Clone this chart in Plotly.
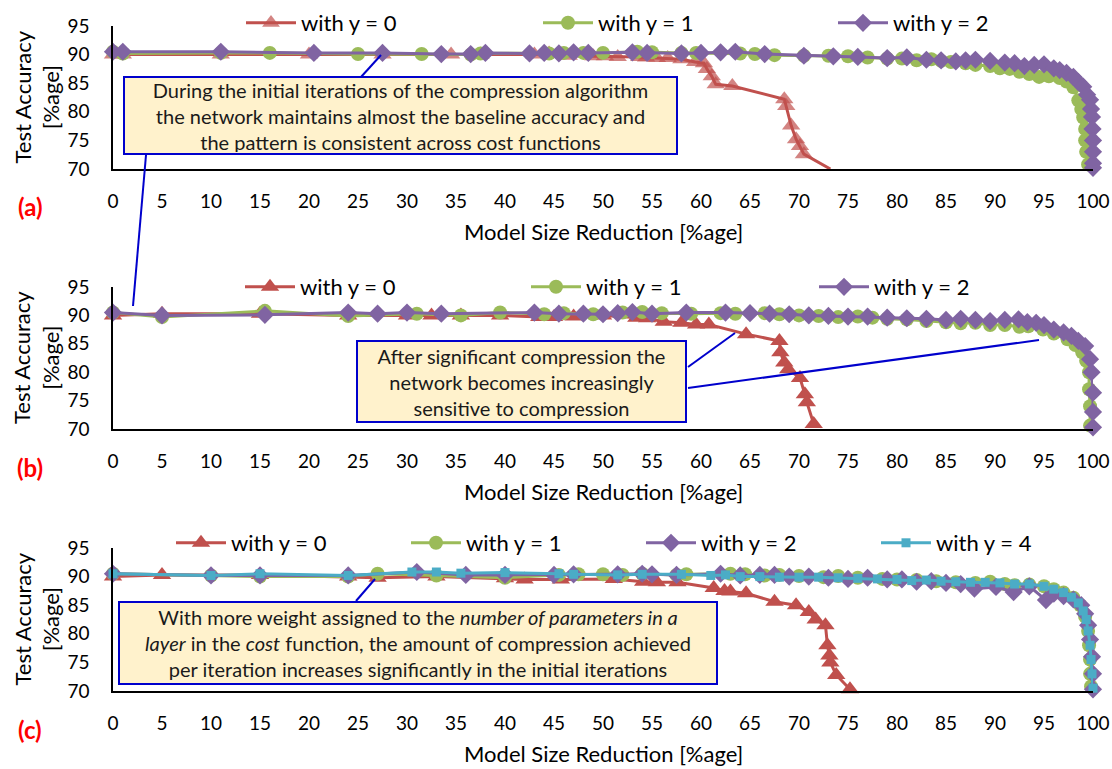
import plotly.graph_objects as go

# ---------------- data ----------------
# (a) cost-function sweep: y = 0, 1, 2
a_y0_x = [0, 1, 11, 20, 27.5, 34.5, 37.5, 43, 44.5, 46.5, 49, 50.2, 51.5, 53.7, 54.4, 55.5, 56.6, 58, 59.4,
          60.3, 60.6, 61.1, 61.5, 63.2, 68.5, 68.7, 69.2, 69.7, 70.1, 70.5, 73.2]
a_y0_acc = [90, 90, 90, 90, 90, 90, 90, 90, 90.2, 89.8, 89.7, 89.7, 89.6, 89.6, 89.5, 89.4, 89.4, 89.2, 88.7,
            88.5, 87.5, 86.2, 84.8, 84.5, 82.2, 81, 77.6, 75.2, 74, 72.6, 70]

a_y1_x = [0, 1, 11, 16, 25, 31.5, 36.5, 37.5, 44.5, 46, 48, 50, 53.5, 55, 58, 59.5, 64, 65.5, 67.5, 70.5,
          73, 75, 77, 79, 80.5, 82, 83.5, 84.5, 85.5, 87, 88, 89.5, 90.5, 91.5, 92.5, 93.5, 94.5, 95.5,
          96.6, 97.3, 98, 98.5, 98.8, 99.0, 99.2, 99.2, 99.3, 99.5]
a_y1_acc = [90.5, 90.2, 90.3, 90.3, 90.1, 90.1, 90.0, 90.2, 90.2, 90.3, 90.3, 90.3, 90.5, 90.4, 90.3, 90.3,
            90.2, 90.1, 89.9, 89.8, 89.8, 89.7, 89.5, 89.3, 89.3, 89.0, 89.2, 88.9, 88.7, 88.5, 88.2, 88.0,
            87.6, 87.5, 87.0, 86.6, 86.1, 86.2, 85.9, 85.3, 84.3, 82.0, 80.5, 79.0, 77.0, 75.0, 73.0, 70.8]

a_y2_x = [0, 1, 11, 20.5, 27.5, 33.5, 36.5, 38, 42.5, 44, 45.5, 47, 48.5, 53, 54.5, 58, 60, 62, 63.5, 66.5,
          70.5, 73.5, 76, 79, 81, 83, 84.5, 86, 87, 88, 89.5, 91, 92, 93, 94, 95, 96, 96.6, 97.3, 98, 98.5,
          99, 99.4, 99.7, 99.8, 99.9, 99.95, 100, 100, 100, 100]
a_y2_acc = [90.5, 90.5, 90.5, 90.3, 90.3, 90.1, 90.1, 90.3, 90.2, 90.3, 90.2, 90.4, 90.3, 90.4, 90.3, 90.2,
            90.3, 90.4, 90.5, 90.1, 89.8, 89.7, 89.6, 89.4, 89.5, 89.1, 89.0, 88.8, 89.0, 89.1, 88.9, 88.6,
            88.5, 88.0, 88.2, 88.3, 87.6, 87.3, 86.8, 86.1, 85.2, 84.4, 83.0, 82.1, 80.5, 79.1, 77.0, 75.0,
            73.0, 71.0, 70.2]

# (b)
b_y0_x = [0, 5, 15, 24, 30, 32.5, 35.5, 39.5, 43.5, 45, 47, 50, 53.4, 54.5, 56.2, 58, 59.5, 60.8, 64.6, 68,
          68.1, 68.5, 68.9, 70.1, 70.6, 70.8, 71.5]
b_y0_acc = [90, 90.3, 90.3, 90.0, 90.0, 90.0, 90.0, 90.0, 89.7, 89.7, 89.8, 90.0, 89.6, 89.5, 88.9, 88.7,
            88.4, 88.4, 86.7, 85.5, 83.5, 81.7, 80.5, 79, 76.1, 74.7, 70.9]

b_y1_x = [0, 5, 15.5, 24, 31, 35.5, 39.5, 44, 46, 49, 52, 54, 56, 59, 62, 63.5, 66.5, 68, 70, 72, 74, 76,
          77.5, 79, 81, 83, 85, 86.5, 88, 89.5, 91, 92.5, 93.4, 94.9, 96, 97.4, 98.2, 98.9, 99.3, 99.6,
          99.6, 99.7, 99.7]
b_y1_acc = [90.5, 89.7, 90.8, 89.9, 90.3, 90.0, 90.5, 90.2, 90.4, 90.2, 90.5, 90.6, 90.4, 90.3, 90.4, 90.3,
            90.4, 90.2, 90.0, 89.9, 89.7, 89.8, 89.6, 89.4, 89.3, 89.0, 88.8, 88.6, 88.7, 88.3, 88.3, 88.0,
            88.1, 87.5, 86.8, 85.8, 84.8, 83.5, 82.0, 80.0, 77.0, 74.0, 70.6]

b_y2_x = [0, 5, 15.5, 24, 27, 30, 33.5, 43, 45.5, 48, 50, 51.5, 53, 55, 58.5, 62.5, 65, 67, 69, 71, 73, 75,
          77, 79, 81, 83, 85, 86.5, 88, 89.5, 91, 92.4, 93.3, 94.2, 95, 96, 97, 97.8, 98.5, 99.2, 99.7,
          99.85, 100, 100, 100]
b_y2_acc = [90.5, 90.0, 90.1, 90.5, 90.3, 90.5, 90.3, 90.5, 90.3, 90.3, 90.2, 90.4, 90.6, 90.3, 90.5, 90.5,
            90.4, 90.3, 90.2, 90.0, 89.9, 89.8, 89.8, 89.6, 89.5, 89.4, 89.2, 89.4, 89.2, 89.0, 89.2, 89.3,
            88.8, 88.7, 88.3, 87.5, 87.0, 86.4, 85.5, 84.6, 82.3, 80.0, 76.4, 73.0, 70.3]

# (c) adds y = 4
c_y0_x = [0, 5, 15, 24, 27, 33, 40, 42, 45.7, 51.1, 54.1, 55.5, 57.6, 61.3, 62.4, 63, 64.6, 67.5, 69.7, 71,
          71.7, 72.7, 72.9, 73.1, 73.2, 73.8, 75.2]
c_y0_acc = [90, 90.3, 90.3, 90.0, 89.8, 90.0, 89.7, 89.5, 89.5, 89.6, 89.1, 89.0, 89.0, 88.0, 87.5, 87.4,
            87.1, 85.6, 85.0, 83.8, 82.5, 81.5, 78.0, 76.2, 75.0, 72.8, 70.3]

c_y1_x = [0, 10, 15, 24, 27, 33, 40, 45.5, 47.5, 50, 52, 54, 57.5, 58.5, 63, 64.5, 66.5, 68, 70, 72.5, 74,
          76, 78.5, 80, 82, 84, 86, 88, 89.5, 91, 92, 93.5, 95, 96, 97, 98, 98.7, 99.2, 99.5, 99.6, 99.7,
          99.7, 99.8]
c_y1_acc = [90.5, 90.2, 90.0, 90.0, 90.5, 90.2, 89.8, 90.3, 90.4, 90.4, 90.3, 90.5, 90.3, 90.4, 90.5, 90.4,
            90.2, 90.3, 90.1, 89.9, 90.1, 89.8, 89.6, 89.5, 89.4, 89.2, 89.0, 88.9, 89.1, 88.7, 88.5, 88.6,
            88.3, 87.8, 87.2, 86.3, 85.0, 83.0, 80.5, 78.0, 75.5, 73.0, 70.8]

c_y2_x = [0, 10, 15, 24, 31, 36, 40, 45, 47, 51.5, 54, 55, 57.5, 62, 64, 66, 67.5, 69, 71, 73, 75, 77, 79,
          80.5, 82, 83.5, 85, 86.5, 87.9, 90.1, 91.9, 93.5, 95.2, 96, 97, 98, 98.8, 99.2, 99.5, 99.7, 99.9,
          100, 100]
c_y2_acc = [90.5, 90.2, 90.2, 90.2, 90.8, 90.3, 90.3, 90.3, 90.4, 90.4, 90.5, 90.4, 90.3, 90.5, 90.2, 90.3,
            90.3, 90.0, 90.0, 89.8, 89.6, 89.8, 89.5, 89.5, 89.1, 89.2, 88.9, 88.7, 87.9, 88.2, 87.3, 88.3,
            85.9, 87.0, 86.6, 86.0, 85.0, 83.5, 81.5, 79.0, 76.0, 73.0, 70.3]

c_y4_x = [0, 10, 15, 24, 30.5, 33, 35.5, 40, 45.5, 47, 51.5, 54, 58, 61, 62.5, 64, 66, 68, 70, 72, 74, 76,
          78, 80, 81.5, 83, 84.5, 86, 87.5, 89, 90.5, 92, 93.5, 95, 96, 97, 97.8, 98.5, 99, 99.3, 99.5,
          99.7, 99.8, 99.9, 100]
c_y4_acc = [90.5, 90.2, 90.5, 90.2, 90.8, 90.8, 90.6, 90.7, 90.5, 90.4, 90.3, 90.4, 90.4, 90.2, 90.3, 90.0,
            90.0, 89.9, 89.9, 89.9, 89.8, 89.7, 89.6, 89.5, 89.3, 89.4, 89.2, 89.1, 89.0, 89.0, 88.9, 88.7,
            88.7, 88.3, 87.8, 87.2, 86.4, 85.4, 84.0, 82.5, 80.5, 78.0, 75.5, 73.0, 70.5]

x_ticks = list(range(0, 101, 5))
y_ticks = [70, 75, 80, 85, 90, 95]

# ---------------- styling ----------------
W, H = 1112, 769
FONT = "Lato"
RED, GREEN, PURPLE, CYAN = "#C0504D", "#9BBB59", "#8064A2", "#4BACC6"
STYLE = {
    0: dict(color=RED, symbol="triangle-up", size=16, name="with y = 0"),
    1: dict(color=GREEN, symbol="circle", size=14, name="with y = 1"),
    2: dict(color=PURPLE, symbol="diamond", size=14, name="with y = 2"),
    4: dict(color=CYAN, symbol="square", size=9, name="with y = 4"),
}


def px_x(p):
    return p / W


def px_y(p):
    return 1 - p / H


# pixel rows of each panel: (top of y-range, bottom of y-range)
panels = [(26, 169), (287, 429), (548, 691)]
x_left, x_right = 113, 1093

series = [
    [(0, a_y0_x, a_y0_acc), (1, a_y1_x, a_y1_acc), (2, a_y2_x, a_y2_acc)],
    [(0, b_y0_x, b_y0_acc), (1, b_y1_x, b_y1_acc), (2, b_y2_x, b_y2_acc)],
    [(0, c_y0_x, c_y0_acc), (1, c_y1_x, c_y1_acc), (2, c_y2_x, c_y2_acc), (4, c_y4_x, c_y4_acc)],
]
# where each legend entry's label text starts (px), and the row it sits on
legend_text_x = [[303, 600, 895], [302, 588, 876], [233, 468, 703, 938]]
legend_row_y = [23, 287, 543]

fig = go.Figure()
layout = dict(
    width=W, height=H,
    margin=dict(l=0, r=0, t=0, b=0, autoexpand=False),
    paper_bgcolor="white", plot_bgcolor="white",
    font=dict(family=FONT, size=18, color="#000000"),
    showlegend=True,
)

LEG_ITEMW = 50
leg_idx = 0
for i, panel in enumerate(series):
    sfx = "" if i == 0 else str(i + 1)
    for j, (key, xs, ys) in enumerate(panel):
        st = STYLE[key]
        sizes = st["size"]
        if i == 0 and key == 0:
            # last point of the first panel sits on the axis floor with no marker
            sizes = [st["size"]] * (len(xs) - 1) + [0]
        leg_idx += 1
        lname = "legend" if leg_idx == 1 else "legend%d" % leg_idx
        fig.add_trace(go.Scatter(
            x=xs, y=ys, mode="lines+markers", name=st["name"],
            line=dict(color=st["color"], width=3),
            marker=dict(symbol=st["symbol"], size=sizes, color=st["color"], line=dict(width=0)),
            cliponaxis=False,
            xaxis="x" + sfx, yaxis="y" + sfx,
            legend=lname,
        ))
        layout[lname] = dict(
            orientation="h", x=px_x(legend_text_x[i][j] - LEG_ITEMW - 12), y=px_y(legend_row_y[i]),
            xanchor="left", yanchor="middle",
            font=dict(family=FONT, size=22, color="#000000"), bgcolor="rgba(0,0,0,0)",
            itemwidth=LEG_ITEMW,
        )

axis_font = dict(family=FONT, size=19, color="#000000")
for i, (top, bot) in enumerate(panels):
    sfx = "" if i == 0 else str(i + 1)
    layout["xaxis" + sfx] = dict(
        domain=[px_x(x_left), px_x(x_right)], range=[0, 100], anchor="y" + sfx,
        tickvals=x_ticks, ticktext=[str(v) for v in x_ticks], tickfont=axis_font,
        showgrid=False, zeroline=False, showline=True, linecolor="#000000", linewidth=1.5,
        ticks="", ticklabelstandoff=14,
    )
    layout["yaxis" + sfx] = dict(
        domain=[px_y(bot), px_y(top)], range=[70, 95], anchor="x" + sfx,
        tickvals=y_ticks, tickfont=axis_font,
        showgrid=False, zeroline=False, showline=True, linecolor="#000000", linewidth=1.5,
        ticks="", ticklabelstandoff=18,
    )

fig.update_layout(**layout)

annotations = []
for i, (top, bot) in enumerate(panels):
    mid = (top + bot) / 2
    annotations.append(dict(
        text="Test Accuracy<br>[%age]", x=px_x(36), y=px_y(mid), xref="paper", yref="paper",
        textangle=-90, showarrow=False, font=dict(family=FONT, size=22, color="#000000"),
        xanchor="center", yanchor="middle",
    ))
    annotations.append(dict(
        text="Model Size Reduction [%age]", x=px_x(603), y=px_y(bot + 62), xref="paper", yref="paper",
        showarrow=False, font=dict(family=FONT, size=22, color="#000000"),
        xanchor="center", yanchor="middle",
    ))
    annotations.append(dict(
        text="<b>(" + "abc"[i] + ")</b>", x=px_x(30), y=px_y(bot + 38), xref="paper", yref="paper",
        showarrow=False, font=dict(family=FONT, size=24, color="#FF0000"),
        xanchor="center", yanchor="middle",
    ))

BOX_FILL, BOX_LINE, TXT = "#FFF2CC", "#0000CC", "#1a1a1a"
boxes = [
    ((123, 76, 678, 155),
     "During the initial iterations of the compression algorithm<br>"
     "the network maintains almost the baseline accuracy and<br>"
     "the pattern is consistent across cost functions"),
    ((356, 340, 687, 423),
     "After significant compression the<br>network becomes increasingly<br>sensitive to compression"),
    ((118, 601, 718, 685),
     "With more weight assigned to the <i>number of parameters in a</i><br>"
     "<i>layer</i> in the <i>cost</i> function, the amount of compression achieved<br>"
     "per iteration increases significantly in the initial iterations"),
]
for (x0, y0, x1, y1), txt in boxes:
    annotations.append(dict(
        text=txt, x=px_x((x0 + x1) / 2), y=px_y((y0 + y1) / 2), xref="paper", yref="paper",
        showarrow=False, align="center", xanchor="center", yanchor="middle",
        font=dict(family=FONT, size=20, color=TXT),
        bgcolor=BOX_FILL, bordercolor=BOX_LINE, borderwidth=2, borderpad=1,
        width=(x1 - x0) - 6, height=(y1 - y0) - 6,
    ))
fig.update_layout(annotations=annotations)

# callout leader lines
leaders = [
    (361, 77, 381, 55),
    (146, 155, 133, 306),
    (688, 367, 735, 333),
    (688, 388, 1039, 340),
    (356, 601, 375, 579),
]
for x0, y0, x1, y1 in leaders:
    fig.add_shape(type="line", xref="paper", yref="paper",
                  x0=px_x(x0), y0=px_y(y0), x1=px_x(x1), y1=px_y(y1),
                  line=dict(color=BOX_LINE, width=2))

fig.write_html("out.html")
